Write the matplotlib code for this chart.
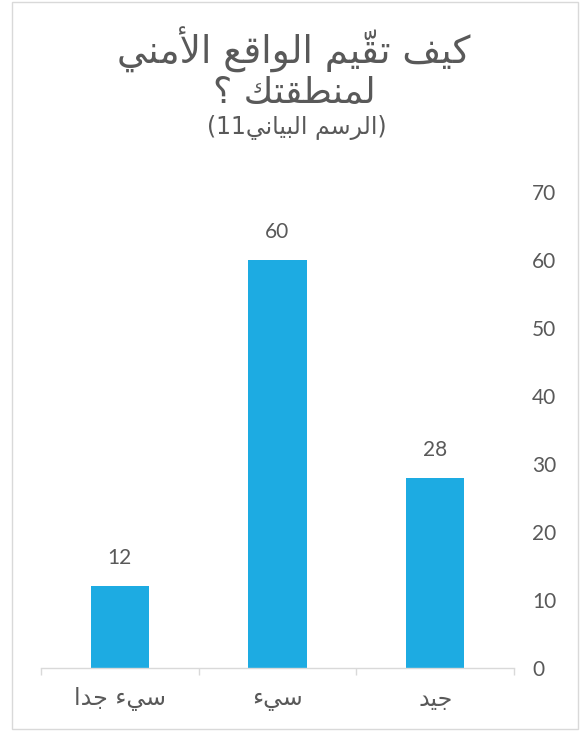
import matplotlib
matplotlib.use('Agg')
import matplotlib.pyplot as plt
from matplotlib.patches import Rectangle

# data
categories = ['سيء جدا', 'سيء', 'جيد']
values = [12, 60, 28]
y_ticks = [0, 10, 20, 30, 40, 50, 60, 70]
title_lines = ['كيف تقيّم الواقع الأمني', 'لمنطقتك ؟']
subtitle = '(الرسم البياني11)'

GRAY = '#595959'
LINE = '#D9D9D9'
BAR = '#1DABE2'

# matplotlib has no arabic shaping -> map letters to presentation forms by hand
# (isolated, final, initial, medial)
FORMS = {
    'ا': ('\uFE8D', '\uFE8E', None, None),
    'أ': ('\uFE83', '\uFE84', None, None),
    'ب': ('\uFE8F', '\uFE90', '\uFE91', '\uFE92'),
    'ت': ('\uFE95', '\uFE96', '\uFE97', '\uFE98'),
    'ج': ('\uFE9D', '\uFE9E', '\uFE9F', '\uFEA0'),
    'د': ('\uFEA9', '\uFEAA', None, None),
    'ر': ('\uFEAD', '\uFEAE', None, None),
    'س': ('\uFEB1', '\uFEB2', '\uFEB3', '\uFEB4'),
    'ط': ('\uFEC1', '\uFEC2', '\uFEC3', '\uFEC4'),
    'ع': ('\uFEC9', '\uFECA', '\uFECB', '\uFECC'),
    'ف': ('\uFED1', '\uFED2', '\uFED3', '\uFED4'),
    'ق': ('\uFED5', '\uFED6', '\uFED7', '\uFED8'),
    'ك': ('\uFED9', '\uFEDA', '\uFEDB', '\uFEDC'),
    'ل': ('\uFEDD', '\uFEDE', '\uFEDF', '\uFEE0'),
    'م': ('\uFEE1', '\uFEE2', '\uFEE3', '\uFEE4'),
    'ن': ('\uFEE5', '\uFEE6', '\uFEE7', '\uFEE8'),
    'و': ('\uFEED', '\uFEEE', None, None),
    'ي': ('\uFEF1', '\uFEF2', '\uFEF3', '\uFEF4'),
    'ء': ('\uFE80', None, None, None),
}
LAM_ALEF = {'ا': ('\uFEFB', '\uFEFC'), 'أ': ('\uFEF7', '\uFEF8')}
MARKS = {'\u0651'}
MIRROR = {'(': ')', ')': '('}


def _neighbour(chars, i, step):
    j = i + step
    while 0 <= j < len(chars) and chars[j] in MARKS:
        j += step
    return (chars[j], j) if 0 <= j < len(chars) else (None, j)


def shape(text):
    chars = list(text)
    out = []
    i = 0
    while i < len(chars):
        c = chars[i]
        if c not in FORMS:
            out.append(c)
            i += 1
            continue
        prev, _ = _neighbour(chars, i, -1)
        nxt, j = _neighbour(chars, i, 1)
        joins_prev = prev in FORMS and FORMS[prev][2] is not None
        if c == 'ل' and nxt in LAM_ALEF:
            out.append(LAM_ALEF[nxt][1 if joins_prev else 0])
            i = j + 1
            continue
        joins_prev = joins_prev and FORMS[c][1] is not None
        joins_next = FORMS[c][2] is not None and nxt in FORMS and FORMS[nxt][1] is not None
        if joins_prev and joins_next:
            out.append(FORMS[c][3])
        elif joins_prev:
            out.append(FORMS[c][1])
        elif joins_next:
            out.append(FORMS[c][2])
        else:
            out.append(FORMS[c][0])
        i += 1
    return ''.join(out)


def visual(text):
    shaped = shape(text)
    # clusters keep a mark after its base
    clusters = []
    for ch in shaped:
        if ch in MARKS and clusters:
            clusters[-1] += ch
        else:
            clusters.append(ch)
    # runs of digits stay left-to-right
    runs = []
    for cl in clusters:
        is_digit = cl.isdigit()
        if runs and runs[-1][0] == is_digit:
            runs[-1][1].append(cl)
        else:
            runs.append((is_digit, [cl]))
    res = ''
    for is_digit, cls in reversed(runs):
        if is_digit:
            res += ''.join(cls)
        else:
            res += ''.join(MIRROR.get(cl, cl) for cl in reversed(cls))
    return res


AR_FONT = ['DejaVu Sans']
NUM_FONT = ['Lato', 'DejaVu Sans']

fig = plt.figure(figsize=(5.82, 7.31), dpi=100)
ax = fig.add_axes([41 / 582, 1 - 668 / 731, (514 - 41) / 582, (668 - 192) / 731])

x = list(range(len(categories)))
bars = ax.bar(x, values, width=0.37, color=BAR)
ax.set_xlim(-0.5, len(categories) - 0.5)
ax.set_ylim(0, 70)

# y axis labels on the right, no line
ax.yaxis.tick_right()
ax.set_yticks(y_ticks)
ax.set_yticklabels([str(t) for t in y_ticks], family=NUM_FONT)
ax.tick_params(axis='y', length=0, pad=13, labelsize=15, labelcolor=GRAY)

for s in ['top', 'left', 'right']:
    ax.spines[s].set_visible(False)
ax.spines['bottom'].set_color(LINE)
ax.spines['bottom'].set_linewidth(1)

ax.set_xticks(x)
ax.set_xticklabels([visual(c) for c in categories], family=AR_FONT)
ax.tick_params(axis='x', which='major', length=0, pad=14, labelsize=17, labelcolor=GRAY)
ax.set_xticks([-0.5, 0.5, 1.5, 2.5], minor=True)
ax.tick_params(axis='x', which='minor', length=5, width=1, color=LINE)

for b, v in zip(bars, values):
    ax.annotate(str(v), (b.get_x() + b.get_width() / 2, v), xytext=(0, 13),
                textcoords='offset points', ha='center', va='bottom',
                fontsize=15, color=GRAY, family=NUM_FONT)

# titles
fig.text(0.505, 1 - 50 / 731, visual(title_lines[0]), ha='center', va='center',
         fontsize=27, color=GRAY, family=AR_FONT)
fig.text(0.505, 1 - 93 / 731, visual(title_lines[1]), ha='center', va='center',
         fontsize=26, color=GRAY, family=AR_FONT)
fig.text(0.51, 1 - 128 / 731, visual(subtitle), ha='center', va='center',
         fontsize=17, color=GRAY, family=AR_FONT)

# light frame round the chart
fig.patches.append(Rectangle((12 / 582, 2 / 731), (578 - 12) / 582, (729 - 2) / 731,
                             transform=fig.transFigure, fill=False,
                             edgecolor=LINE, linewidth=1))

fig.savefig('out.png', dpi=100)
